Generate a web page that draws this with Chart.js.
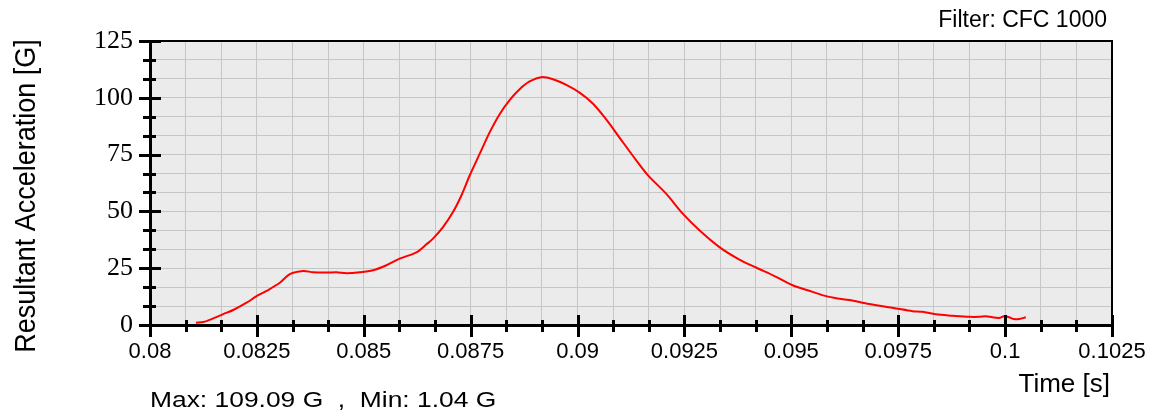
<!DOCTYPE html>
<html>
<head>
<meta charset="utf-8">
<script src="https://cdn.jsdelivr.net/npm/chart.js@4"></script>
<style>
  html, body { margin: 0; padding: 0; background: #fff; }
  #wrap { width: 1156px; height: 417px; position: relative; }
</style>
</head>
<body>
<div id="wrap"><canvas id="accel-chart"></canvas></div>
<script>
// time [s] vs resultant acceleration [G]
const timeS = [0.081075, 0.081245, 0.081479, 0.081713, 0.081946, 0.082259, 0.082493, 0.082727, 0.083037, 0.083271,
  0.083582, 0.083815, 0.084128, 0.084362, 0.084596, 0.084907, 0.085217, 0.08553, 0.085841, 0.086231,
  0.086465, 0.086619, 0.086853, 0.087087, 0.087283, 0.087477, 0.08771, 0.087944, 0.088178, 0.088411,
  0.088645, 0.088879, 0.089152, 0.089423, 0.089736, 0.090047, 0.090357, 0.09067, 0.090981,
  0.091292, 0.091643, 0.092072, 0.09246, 0.09285, 0.093318, 0.093785, 0.094175, 0.094643, 0.09503,
  0.095497, 0.095811, 0.096082, 0.096355, 0.096822, 0.097446, 0.097834, 0.098068, 0.098381, 0.098769,
  0.099159, 0.099393, 0.099549, 0.099703, 0.09986, 0.099977, 0.100093, 0.10021, 0.100327, 0.100484];
const accelG = [1.04, 1.3, 2.9, 4.8, 6.6, 9.8, 12.7, 15.0, 18.6, 22.4,
  23.8, 23.2, 23.1, 23.2, 22.8, 23.2, 24.1, 26.3, 29.2, 32.0,
  35.5, 38.0, 43.1, 49.7, 57.0, 65.8, 75.3, 84.8, 92.8, 99.0,
  103.8, 107.2, 109.09, 108.2, 105.7, 102.3, 97.5, 90.5, 82.5,
  74.5, 66.0, 57.8, 49.0, 41.7, 34.3, 28.8, 25.3, 21.2, 17.5,
  14.6, 12.7, 11.7, 11.0, 9.2, 7.3, 6.1, 5.8, 4.7, 4.1,
  3.6, 3.6, 3.9, 3.4, 3.1, 3.9, 3.4, 2.6, 2.6, 3.4];

const xMajorTicks = [0.08, 0.0825, 0.085, 0.0875, 0.09, 0.0925, 0.095, 0.0975, 0.1, 0.1025];
const xTickLabels = ['0.08', '0.0825', '0.085', '0.0875', '0.09', '0.0925', '0.095', '0.0975', '0.1', '0.1025'];
const yMajorTicks = [0, 25, 50, 75, 100, 125];
const yTickLabels = ['0', '25', '50', '75', '100', '125'];
const SUBDIV = 3;

const titleText = 'Filter: CFC 1000';
const xTitle = 'Time [s]';
const yTitle = 'Resultant Acceleration [G]';
const statsText = 'Max: 109.09 G  ,  Min: 1.04 G';

function withMinors(majors) {
  const out = [];
  for (let i = 0; i < majors.length - 1; i++) {
    const step = (majors[i + 1] - majors[i]) / SUBDIV;
    for (let k = 0; k < SUBDIV; k++) out.push(majors[i] + k * step);
  }
  out.push(majors[majors.length - 1]);
  return out;
}

function majorIndex(v, majors) {
  return majors.findIndex(m => Math.abs(m - v) < 1e-9 * Math.max(1, Math.abs(m)) + 1e-9);
}

const SANS = '"Liberation Sans", Arial, sans-serif';
const SERIF = '"Liberation Serif", "Times New Roman", serif';

function drawText(ctx, text, x, y, size, align, sx) {
  ctx.save();
  ctx.translate(x, y);
  ctx.scale(sx || 1, 1);
  ctx.font = size + 'px ' + SANS;
  ctx.textAlign = align;
  ctx.textBaseline = 'alphabetic';
  ctx.fillStyle = '#000';
  ctx.fillText(text, 0, 0);
  ctx.restore();
}

const framePlugin = {
  id: 'frame',
  beforeDraw(chart) {
    const { ctx, chartArea: a } = chart;
    ctx.save();
    ctx.fillStyle = '#ebebeb';
    ctx.fillRect(a.left, a.top, a.right - a.left, a.bottom - a.top);
    ctx.restore();
  },
  afterDraw(chart) {
    const { ctx, chartArea: a, scales } = chart;
    ctx.save();
    ctx.strokeStyle = '#000';
    // top and right frame
    ctx.lineWidth = 2;
    ctx.beginPath();
    ctx.moveTo(a.left, a.top);
    ctx.lineTo(a.right, a.top);
    ctx.lineTo(a.right, a.bottom);
    ctx.stroke();
    // tick marks crossing the axes
    ctx.lineWidth = 3;
    ctx.beginPath();
    scales.y.ticks.forEach(t => {
      const py = Math.round(scales.y.getPixelForValue(t.value)) + 0.5;
      const big = majorIndex(t.value, yMajorTicks) >= 0;
      ctx.moveTo(a.left - (big ? 11 : 7), py);
      ctx.lineTo(a.left + (big ? 11 : 6), py);
    });
    scales.x.ticks.forEach(t => {
      const px = Math.round(scales.x.getPixelForValue(t.value)) + 0.5;
      const big = majorIndex(t.value, xMajorTicks) >= 0;
      ctx.moveTo(px, a.bottom - (big ? 10 : 5));
      ctx.lineTo(px, a.bottom + (big ? 12 : 7));
    });
    ctx.stroke();
    ctx.restore();

    drawText(ctx, titleText, 1107, 27, 23, 'right', 1);
    drawText(ctx, xTitle, 1110, 392, 26, 'right', 1);
    drawText(ctx, statsText, 150, 407, 22, 'left', 1.2);

    ctx.save();
    ctx.translate(35, 196);
    ctx.rotate(-Math.PI / 2);
    ctx.scale(1, 1.12);
    ctx.font = '27px ' + SANS;
    ctx.textAlign = 'center';
    ctx.textBaseline = 'alphabetic';
    ctx.fillStyle = '#000';
    ctx.fillText(yTitle, 0, 0);
    ctx.restore();
  }
};

const ctx = document.getElementById('accel-chart').getContext('2d');
const accelChart = new Chart(ctx, {
  type: 'line',
  data: {
    datasets: [{
      label: 'Resultant Acceleration',
      data: timeS.map((t, i) => ({ x: t, y: accelG[i] })),
      borderColor: '#ff0000',
      borderWidth: 2,
      pointRadius: 0,
      tension: 0.3,
      fill: false,
    }]
  },
  options: {
    responsive: true,
    maintainAspectRatio: false,
    animation: false,
    layout: { padding: { top: 41, right: 44, left: 0, bottom: 0 } },
    plugins: { legend: { display: false }, tooltip: { enabled: false } },
    scales: {
      x: {
        type: 'linear',
        min: 0.08,
        max: 0.1025,
        afterBuildTicks: s => { s.ticks = withMinors(xMajorTicks).map(v => ({ value: v })); },
        afterFit: s => { s.height = 92; s.paddingLeft = 0; s.paddingRight = 0; },
        grid: { color: '#c6c6c6', lineWidth: 1, drawTicks: false },
        border: { display: true, color: '#000', width: 3 },
        ticks: {
          autoSkip: false,
          maxRotation: 0,
          padding: 14,
          color: '#000',
          font: { family: SANS, size: 22 },
          callback: v => { const i = majorIndex(v, xMajorTicks); return i >= 0 ? xTickLabels[i] : ''; }
        }
      },
      y: {
        min: 0,
        max: 125,
        afterBuildTicks: s => { s.ticks = withMinors(yMajorTicks).map(v => ({ value: v })); },
        afterFit: s => { s.width = 150; s.paddingTop = 0; s.paddingBottom = 0; },
        grid: { color: '#c6c6c6', lineWidth: 1, drawTicks: false },
        border: { display: true, color: '#000', width: 3 },
        ticks: {
          autoSkip: false,
          padding: 17,
          color: '#000',
          font: { family: SERIF, size: 26 },
          callback: v => { const i = majorIndex(v, yMajorTicks); return i >= 0 ? yTickLabels[i] : ''; }
        }
      }
    }
  },
  plugins: [framePlugin]
});
</script>
</body>
</html>
